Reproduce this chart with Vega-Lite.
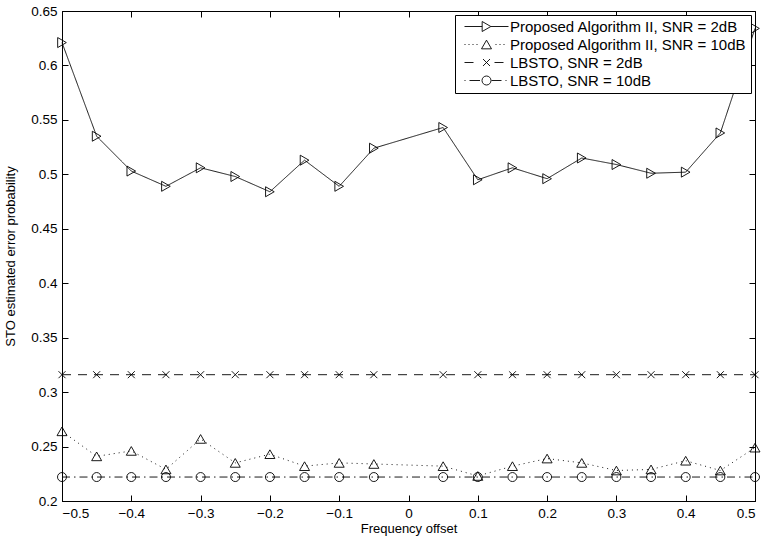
{
  "$schema": "https://vega.github.io/schema/vega-lite/v6.json",
  "width": 693,
  "height": 490,
  "autosize": {"type": "none"},
  "padding": {"left": 62, "top": 11, "right": 12, "bottom": 47},
  "background": "white",
  "config": {
    "font": "Liberation Sans",
    "view": {"stroke": "black", "strokeWidth": 1},
    "axis": {
      "grid": false,
      "domainColor": "black",
      "domainWidth": 1,
      "tickColor": "black",
      "tickWidth": 1,
      "tickSize": -6,
      "labelPadding": 11,
      "labelColor": "black",
      "titleColor": "black",
      "labelFont": "Liberation Sans",
      "titleFont": "Liberation Sans",
      "labelFontSize": 13.5,
      "titleFontSize": 13,
      "titleFontWeight": "normal"
    }
  },
  "data": {
    "values": [
      {"x": -0.5, "y": 0.621, "series": "Proposed Algorithm II, SNR = 2dB"},
      {"x": -0.45, "y": 0.535, "series": "Proposed Algorithm II, SNR = 2dB"},
      {"x": -0.4, "y": 0.503, "series": "Proposed Algorithm II, SNR = 2dB"},
      {"x": -0.35, "y": 0.489, "series": "Proposed Algorithm II, SNR = 2dB"},
      {"x": -0.3, "y": 0.506, "series": "Proposed Algorithm II, SNR = 2dB"},
      {"x": -0.25, "y": 0.498, "series": "Proposed Algorithm II, SNR = 2dB"},
      {"x": -0.2, "y": 0.484, "series": "Proposed Algorithm II, SNR = 2dB"},
      {"x": -0.15, "y": 0.513, "series": "Proposed Algorithm II, SNR = 2dB"},
      {"x": -0.1, "y": 0.489, "series": "Proposed Algorithm II, SNR = 2dB"},
      {"x": -0.05, "y": 0.524, "series": "Proposed Algorithm II, SNR = 2dB"},
      {"x": 0.05, "y": 0.543, "series": "Proposed Algorithm II, SNR = 2dB"},
      {"x": 0.1, "y": 0.495, "series": "Proposed Algorithm II, SNR = 2dB"},
      {"x": 0.15, "y": 0.506, "series": "Proposed Algorithm II, SNR = 2dB"},
      {"x": 0.2, "y": 0.496, "series": "Proposed Algorithm II, SNR = 2dB"},
      {"x": 0.25, "y": 0.515, "series": "Proposed Algorithm II, SNR = 2dB"},
      {"x": 0.3, "y": 0.509, "series": "Proposed Algorithm II, SNR = 2dB"},
      {"x": 0.35, "y": 0.501, "series": "Proposed Algorithm II, SNR = 2dB"},
      {"x": 0.4, "y": 0.502, "series": "Proposed Algorithm II, SNR = 2dB"},
      {"x": 0.45, "y": 0.538, "series": "Proposed Algorithm II, SNR = 2dB"},
      {"x": 0.5, "y": 0.634, "series": "Proposed Algorithm II, SNR = 2dB"},
      {"x": -0.5, "y": 0.264, "series": "Proposed Algorithm II, SNR = 10dB"},
      {"x": -0.45, "y": 0.241, "series": "Proposed Algorithm II, SNR = 10dB"},
      {"x": -0.4, "y": 0.246, "series": "Proposed Algorithm II, SNR = 10dB"},
      {"x": -0.35, "y": 0.229, "series": "Proposed Algorithm II, SNR = 10dB"},
      {"x": -0.3, "y": 0.257, "series": "Proposed Algorithm II, SNR = 10dB"},
      {"x": -0.25, "y": 0.235, "series": "Proposed Algorithm II, SNR = 10dB"},
      {"x": -0.2, "y": 0.243, "series": "Proposed Algorithm II, SNR = 10dB"},
      {"x": -0.15, "y": 0.232, "series": "Proposed Algorithm II, SNR = 10dB"},
      {"x": -0.1, "y": 0.235, "series": "Proposed Algorithm II, SNR = 10dB"},
      {"x": -0.05, "y": 0.234, "series": "Proposed Algorithm II, SNR = 10dB"},
      {"x": 0.05, "y": 0.232, "series": "Proposed Algorithm II, SNR = 10dB"},
      {"x": 0.1, "y": 0.223, "series": "Proposed Algorithm II, SNR = 10dB"},
      {"x": 0.15, "y": 0.232, "series": "Proposed Algorithm II, SNR = 10dB"},
      {"x": 0.2, "y": 0.239, "series": "Proposed Algorithm II, SNR = 10dB"},
      {"x": 0.25, "y": 0.235, "series": "Proposed Algorithm II, SNR = 10dB"},
      {"x": 0.3, "y": 0.228, "series": "Proposed Algorithm II, SNR = 10dB"},
      {"x": 0.35, "y": 0.229, "series": "Proposed Algorithm II, SNR = 10dB"},
      {"x": 0.4, "y": 0.237, "series": "Proposed Algorithm II, SNR = 10dB"},
      {"x": 0.45, "y": 0.228, "series": "Proposed Algorithm II, SNR = 10dB"},
      {"x": 0.5, "y": 0.249, "series": "Proposed Algorithm II, SNR = 10dB"},
      {"x": -0.5, "y": 0.316, "series": "LBSTO, SNR = 2dB"},
      {"x": -0.45, "y": 0.316, "series": "LBSTO, SNR = 2dB"},
      {"x": -0.4, "y": 0.316, "series": "LBSTO, SNR = 2dB"},
      {"x": -0.35, "y": 0.316, "series": "LBSTO, SNR = 2dB"},
      {"x": -0.3, "y": 0.316, "series": "LBSTO, SNR = 2dB"},
      {"x": -0.25, "y": 0.316, "series": "LBSTO, SNR = 2dB"},
      {"x": -0.2, "y": 0.316, "series": "LBSTO, SNR = 2dB"},
      {"x": -0.15, "y": 0.316, "series": "LBSTO, SNR = 2dB"},
      {"x": -0.1, "y": 0.316, "series": "LBSTO, SNR = 2dB"},
      {"x": -0.05, "y": 0.316, "series": "LBSTO, SNR = 2dB"},
      {"x": 0.05, "y": 0.316, "series": "LBSTO, SNR = 2dB"},
      {"x": 0.1, "y": 0.316, "series": "LBSTO, SNR = 2dB"},
      {"x": 0.15, "y": 0.316, "series": "LBSTO, SNR = 2dB"},
      {"x": 0.2, "y": 0.316, "series": "LBSTO, SNR = 2dB"},
      {"x": 0.25, "y": 0.316, "series": "LBSTO, SNR = 2dB"},
      {"x": 0.3, "y": 0.316, "series": "LBSTO, SNR = 2dB"},
      {"x": 0.35, "y": 0.316, "series": "LBSTO, SNR = 2dB"},
      {"x": 0.4, "y": 0.316, "series": "LBSTO, SNR = 2dB"},
      {"x": 0.45, "y": 0.316, "series": "LBSTO, SNR = 2dB"},
      {"x": 0.5, "y": 0.316, "series": "LBSTO, SNR = 2dB"},
      {"x": -0.5, "y": 0.222, "series": "LBSTO, SNR = 10dB"},
      {"x": -0.45, "y": 0.222, "series": "LBSTO, SNR = 10dB"},
      {"x": -0.4, "y": 0.222, "series": "LBSTO, SNR = 10dB"},
      {"x": -0.35, "y": 0.222, "series": "LBSTO, SNR = 10dB"},
      {"x": -0.3, "y": 0.222, "series": "LBSTO, SNR = 10dB"},
      {"x": -0.25, "y": 0.222, "series": "LBSTO, SNR = 10dB"},
      {"x": -0.2, "y": 0.222, "series": "LBSTO, SNR = 10dB"},
      {"x": -0.15, "y": 0.222, "series": "LBSTO, SNR = 10dB"},
      {"x": -0.1, "y": 0.222, "series": "LBSTO, SNR = 10dB"},
      {"x": -0.05, "y": 0.222, "series": "LBSTO, SNR = 10dB"},
      {"x": 0.05, "y": 0.222, "series": "LBSTO, SNR = 10dB"},
      {"x": 0.1, "y": 0.222, "series": "LBSTO, SNR = 10dB"},
      {"x": 0.15, "y": 0.222, "series": "LBSTO, SNR = 10dB"},
      {"x": 0.2, "y": 0.222, "series": "LBSTO, SNR = 10dB"},
      {"x": 0.25, "y": 0.222, "series": "LBSTO, SNR = 10dB"},
      {"x": 0.3, "y": 0.222, "series": "LBSTO, SNR = 10dB"},
      {"x": 0.35, "y": 0.222, "series": "LBSTO, SNR = 10dB"},
      {"x": 0.4, "y": 0.222, "series": "LBSTO, SNR = 10dB"},
      {"x": 0.45, "y": 0.222, "series": "LBSTO, SNR = 10dB"},
      {"x": 0.5, "y": 0.222, "series": "LBSTO, SNR = 10dB"}
    ]
  },
  "layer": [
    {
      "mark": {"type": "line", "color": "black", "strokeWidth": 0.9},
      "encoding": {
        "x": {
          "field": "x", "type": "quantitative",
          "scale": {"domain": [-0.5, 0.5], "nice": false},
          "axis": {"orient": "bottom", "values": [-0.5, -0.4, -0.3, -0.2, -0.1, 0, 0.1, 0.2, 0.3, 0.4, 0.5], "format": ".1~f", "title": "Frequency offset", "titlePadding": 3}
        },
        "y": {
          "field": "y", "type": "quantitative",
          "scale": {"domain": [0.2, 0.65], "nice": false, "zero": false},
          "axis": {"orient": "left", "values": [0.2, 0.25, 0.3, 0.35, 0.4, 0.45, 0.5, 0.55, 0.6, 0.65], "format": ".2~f", "title": "STO estimated error probability", "titlePadding": 13}
        },
        "strokeDash": {
          "field": "series", "type": "nominal",
          "scale": {
            "domain": ["Proposed Algorithm II, SNR = 2dB", "Proposed Algorithm II, SNR = 10dB", "LBSTO, SNR = 2dB", "LBSTO, SNR = 10dB"],
            "range": [[1, 0], [1, 4], [9, 7], [8, 4, 1.5, 4]]
          },
          "legend": null
        }
      }
    },
    {
      "mark": {"type": "point", "filled": false, "color": "black", "strokeWidth": 0.9, "size": 100, "opacity": 1},
      "encoding": {
        "x": {
          "field": "x", "type": "quantitative",
          "axis": {"orient": "top", "values": [-0.5, -0.4, -0.3, -0.2, -0.1, 0, 0.1, 0.2, 0.3, 0.4, 0.5], "labels": false, "title": null, "domain": false}
        },
        "y": {
          "field": "y", "type": "quantitative",
          "axis": {"orient": "right", "values": [0.2, 0.25, 0.3, 0.35, 0.4, 0.45, 0.5, 0.55, 0.6, 0.65], "labels": false, "title": null, "domain": false}
        },
        "shape": {
          "field": "series", "type": "nominal",
          "scale": {
            "domain": ["Proposed Algorithm II, SNR = 2dB", "Proposed Algorithm II, SNR = 10dB", "LBSTO, SNR = 2dB", "LBSTO, SNR = 10dB"],
            "range": [
              "M0.866,0L-0.866,-1L-0.866,1Z",
              "M0,-0.866L-1,0.866L1,0.866Z",
              "M-0.7,-0.7L0.7,0.7M-0.7,0.7L0.7,-0.7",
              "M0.9,0A0.9,0.9,0,1,1,-0.9,0A0.9,0.9,0,1,1,0.9,0Z"
            ]
          },
          "legend": null
        }
      }
    },
    {
      "mark": {"type": "point", "filled": false, "color": "black", "strokeWidth": 0.9, "size": 100, "opacity": 0},
      "encoding": {
        "x": {"field": "x", "type": "quantitative", "axis": null},
        "y": {"field": "y", "type": "quantitative", "axis": null},
        "shape": {
          "field": "series", "type": "nominal",
          "scale": {
            "domain": ["Proposed Algorithm II, SNR = 2dB", "Proposed Algorithm II, SNR = 10dB", "LBSTO, SNR = 2dB", "LBSTO, SNR = 10dB"],
            "range": [
              "M-5.4,0M-4.4,0L-0.866,0M0.866,0L4.4,0M0.866,0L-0.866,-1L-0.866,1Z",
              "M-5.4,0M-4.4,0L-4.2,0M-3.6,0L-3.4,0M-2.8,0L-2.6,0M-2,0L-1.8,0M1.8,0L2,0M2.6,0L2.8,0M3.4,0L3.6,0M0,-0.866L-1,0.866L1,0.866Z",
              "M-5.4,0M-4.4,0L-2.6,0M1.6,0L3.4,0M-0.7,-0.7L0.7,0.7M-0.7,0.7L0.7,-0.7",
              "M-5.4,0M-4.4,0L-4.2,0M-3.4,0L-1.3,0M1.0,0L3.0,0M3.8,0L4.0,0M0.9,0A0.9,0.9,0,1,1,-0.9,0A0.9,0.9,0,1,1,0.9,0Z"
            ]
          },
          "legend": {
            "title": null,
            "orient": "top-right",
            "offset": 4,
            "padding": 4,
            "strokeColor": "black",
            "fillColor": "white",
            "labelFont": "Liberation Sans",
            "labelFontSize": 15,
            "labelColor": "black",
            "labelLimit": 400,
            "symbolSize": 100,
            "symbolStrokeWidth": 0.9,
            "symbolStrokeColor": "black",
            "symbolFillColor": "transparent",
            "symbolOpacity": 1,
            "symbolOffset": 20,
            "labelOffset": 16,
            "rowPadding": 2
          }
        }
      }
    }
  ],
  "resolve": {
    "scale": {"shape": "independent"},
    "axis": {"x": "independent", "y": "independent"},
    "legend": {"shape": "independent"}
  }
}
